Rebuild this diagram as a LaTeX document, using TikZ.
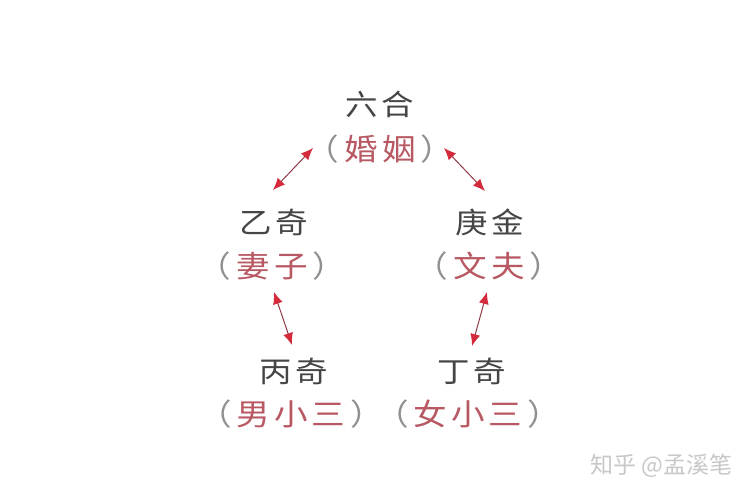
\documentclass[tikz,border=0pt]{standalone}
\usepackage{fontspec}
\newfontfamily\cjk[FakeStretch=1.12]{Noto Sans CJK SC}
\newfontfamily\cjkwm{Noto Sans CJK SC}
\usetikzlibrary{arrows.meta}
\definecolor{txtgray}{HTML}{454545}
\definecolor{pargray}{HTML}{909090}
\definecolor{redtxt}{HTML}{B85862}
\definecolor{arrline}{HTML}{8E3A44}
\definecolor{arrhead}{HTML}{D42A3C}
\definecolor{wmgray}{HTML}{C8C8C8}
\newcommand\lsp{\kern4pt}
\newcommand\lpk{\kern5pt}
\newcommand\lp{{\color{pargray}（}\lpk}
\newcommand\rp{\lpk{\color{pargray}）}}
\tikzset{
  namebox/.style={inner sep=0pt, text=txtgray, font=\cjk\fontsize{29}{32}\selectfont},
  rolebox/.style={inner sep=0pt, text=redtxt, font=\cjk\fontsize{30}{33}\selectfont},
  link/.style={draw=arrline, line width=1pt,
    {Latex[length=12pt,width=10pt,color=arrhead]}-{Latex[length=12pt,width=10pt,color=arrhead]}},
  wm/.style={inner sep=0pt, text=wmgray, font=\cjkwm\fontsize{23}{26}\selectfont, anchor=west}
}
\begin{document}
\begin{tikzpicture}[x=1pt,y=-1pt]
\useasboundingbox (0,0) rectangle (750,500);
\fill[white] (0,0) rectangle (750,500);

\node[namebox] (liuhe) at (380,104) {六\lsp 合};
\node[rolebox] (hunyin) at (380,149) {\lp 婚\lsp 姻\rp};

\node[namebox] (yiqi) at (274,222) {乙\lsp 奇};
\node[rolebox] (qizi) at (272,266) {\lp 妻\lsp 子\rp};

\node[namebox] (gengjin) at (490,222) {庚\lsp 金};
\node[rolebox] (zhangfu) at (489,266) {\lp 文\lsp 夫\rp};

\node[namebox] (bingqi) at (294,371) {丙\lsp 奇};
\node[rolebox] (nanxiaosan) at (291,414) {\lp 男\lsp 小\lsp 三\rp};

\node[namebox] (dingqi) at (472,371) {丁\lsp 奇};
\node[rolebox] (nvxiaosan) at (468,414) {\lp 女\lsp 小\lsp 三\rp};

\coordinate (a1s) at (273,190);
\coordinate (a1e) at (313,148);
\coordinate (a2s) at (444,148);
\coordinate (a2e) at (485,191);
\coordinate (a3s) at (274,292);
\coordinate (a3e) at (292,345);
\coordinate (a4s) at (487,292);
\coordinate (a4e) at (472,346);

\draw[link] (a1s) -- (a1e);
\draw[link] (a2s) -- (a2e);
\draw[link] (a3s) -- (a3e);
\draw[link] (a4s) -- (a4e);

\node[wm] (watermark) at (590,466) {知乎 @孟溪笔};
\end{tikzpicture}
\end{document}
